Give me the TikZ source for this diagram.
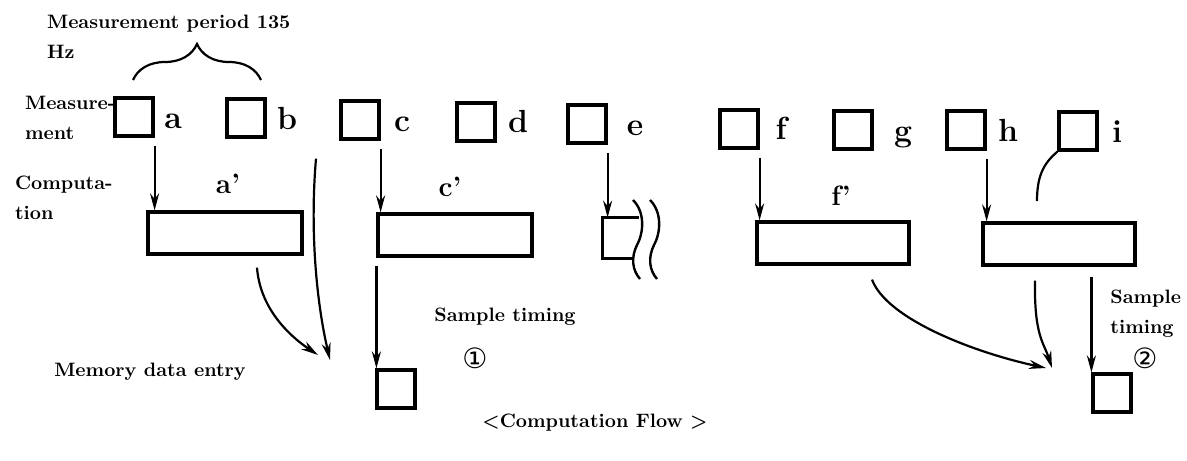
\documentclass[tikz,border=0pt]{standalone}
\usepackage{fontspec}
\newfontfamily\symfont{DejaVu Sans}
\usepackage{tikz}
\usetikzlibrary{calc, arrows.meta, decorations.pathreplacing}
\tikzset{every node/.append style={font=\fontsize{9.7}{15}\selectfont\bfseries}}

\begin{document}
\begin{tikzpicture}[x=0.5pt, y=-0.5pt, >={Stealth[length=8.5pt, width=4.5pt]},
    meas/.style={draw, line width=1.6pt, minimum size=19pt, inner sep=0pt},
    comp/.style={draw, line width=1.6pt, minimum width=77pt, minimum height=21pt, inner sep=0pt},
    letter/.style={font=\fontsize{16}{18}\selectfont\bfseries, anchor=base, inner sep=0pt},
    sublabel/.style={font=\fontsize{14}{16}\selectfont\bfseries, anchor=base, inner sep=0pt},
    circnum/.style={font=\symfont\fontsize{14}{16}\selectfont},
    flow/.style={->, line width=1.1pt}]
    \useasboundingbox (0,0) rectangle (1187,460);
    \node[align=left, anchor=west] (period) at (40,37) {Measurement period 135\\Hz};
    \node[align=left, anchor=west] (mlabel) at (18,118) {Measure-\\ment};
    \node[align=left, anchor=west] (clabel) at (8,198) {Computa-\\tion};
    \node (memlabel) at (150,372) {Memory data entry};
    \node[meas] (ma) at (134,117) {};
    \node[meas] (mb) at (246,118) {};
    \node[meas] (mc) at (360,120) {};
    \node[meas] (md) at (476,122) {};
    \node[meas] (me) at (587,124) {};
    \node[meas] (mf) at (739,129) {};
    \node[meas] (mg) at (853,130) {};
    \node[meas] (mh) at (966,130) {};
    \node[meas] (mi) at (1078,131) {};
    \node[letter] (la) at (173,128) {a};
    \node[letter] (lb) at (287,129) {b};
    \node[letter] (lc) at (402,131) {c};
    \node[letter] (ld) at (518,133) {d};
    \node[letter] (le) at (635,135) {e};
    \node[letter] (lf) at (781,140) {f};
    \node[letter] (lg) at (903,141) {g};
    \node[letter] (lh) at (1008,141) {h};
    \node[letter] (li) at (1117,142) {i};
    \draw[line width=1.1pt, decorate, decoration={brace, amplitude=18pt}] (133,80) -- (261,80);
    \node[comp] (ca) at (225,233) {};
    \node[comp] (cc) at (455,235) {};
    \node[minimum width=18.5pt, minimum height=20pt, inner sep=0pt] (ce) at (621.5,238) {};
    \node[comp, minimum width=76pt] (cf) at (833,243) {};
    \node[comp, minimum width=76pt] (ch) at (1059,244) {};
    \node[sublabel] (lca) at (228,193) {a'};
    \node[sublabel] (lcc) at (450,196) {c'};
    \node[sublabel] (lcf) at (841,205) {f'};
    \draw[line width=1.6pt] ($(ce.south east)+(-6,0)$) -- (ce.south west) -- (ce.north west) -- ($(ce.north east)+(-1,0)$);
    \draw[line width=1.2pt] (633,200) .. controls (645,212) and (644,232) .. (637,245) .. controls (631,257) and (632,270) .. (640,279);
    \draw[line width=1.2pt] (650,200) .. controls (662,212) and (661,232) .. (654,245) .. controls (648,257) and (649,270) .. (657,279);
    \node[meas] (mm1) at (396,389) {};
    \node[meas] (mm2) at (1112,393) {};
    \coordinate (mem1) at (330,360);
    \coordinate (mem2) at (1052,368);
    \coordinate (iend) at (1037,201);
    \draw[flow] ($(ma.south east)+(0,8)$) -- (ma.south east |- ca.north);
    \draw[flow] ($(mc.south east)+(0,8)$) -- (mc.south east |- cc.north);
    \draw[flow] ($(me.south east)+(0,8)$) -- (me.south east |- ce.north);
    \draw[flow] ($(mf.south east)+(0,8)$) -- (mf.south east |- cf.north);
    \draw[flow] ($(mh.south east)+(0,8)$) -- (mh.south east |- ch.north);
    \draw[flow] ($(lb.south)+(29,29)$) .. controls +(-6,70) and +(-14,-60) .. (mem1);
    \draw[flow] ($(ca.south)+(32,12)$) .. controls +(3,40) and +(-30,-20) .. ($(mem1)+(-12,-5)$);
    \draw[flow] ($(cc.south west)+(0,8)$) -- (cc.south west |- mm1.north);
    \draw[flow] ($(cf.south)+(39,14)$) .. controls +(15,40) and +(-70,-15) .. ($(mem2)+(-6,0)$);
    \draw[flow] ($(ch.south)+(-24,14)$) .. controls +(-1,55) and +(-8,-25) .. (mem2);
    \draw[flow] ($(mm2.north west |- ch.south)+(0,10)$) -- (mm2.north west);
    \draw[line width=1.1pt] (mi.south west) .. controls +(-14,12) and +(0,-25) .. (iend);
    \node (st1) at (505,317) {Sample timing};
    \node[circnum] (n1) at (475,358) {①};
    \node[align=left, anchor=north west, inner sep=0pt] (st2) at (1110,290) {Sample\\timing};
    \node[circnum] (n2) at (1145,358) {②};
    \node (flowtitle) at (595,423) {<Computation Flow >};
\end{tikzpicture}
\end{document}
